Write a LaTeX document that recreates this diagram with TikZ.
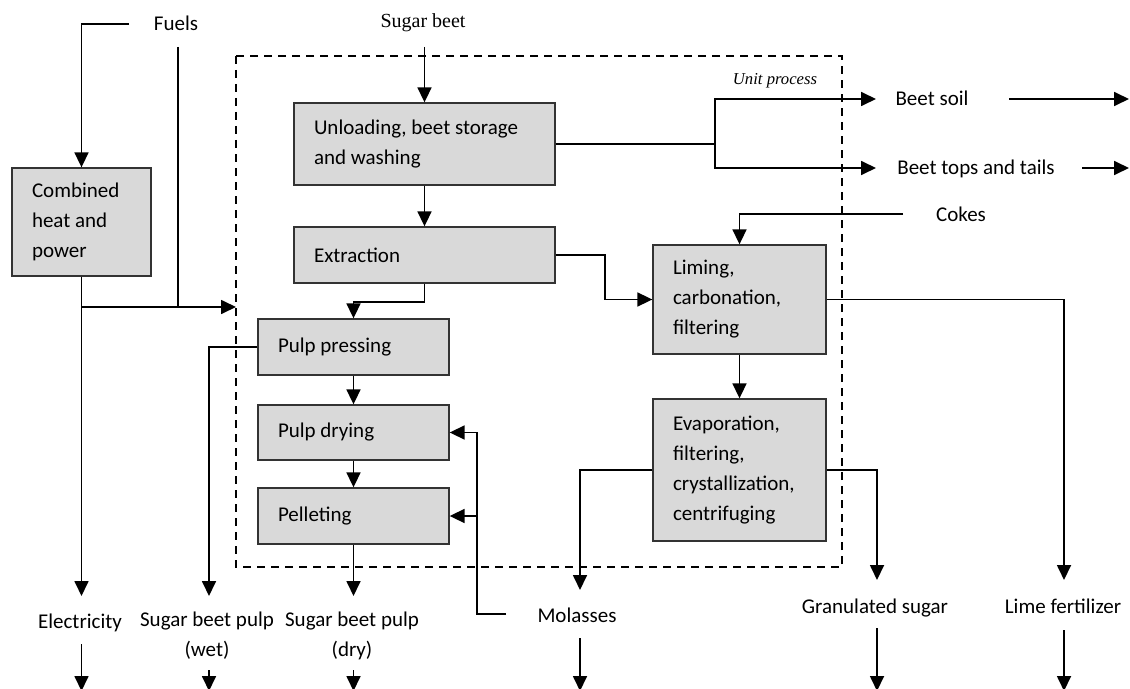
\documentclass[tikz,border=0pt]{standalone}
\usepackage{fontspec}
\setmainfont{Carlito}
\newfontfamily\seriffont{Liberation Serif}
\usetikzlibrary{arrows.meta}
\definecolor{boxgray}{RGB}{217,217,217}
\newcommand{\normspace}{\spaceskip=0pt\relax\xspaceskip=0pt\relax}
\begin{document}
\begin{tikzpicture}[x=0.75pt,y=-0.75pt,
  font=\fontsize{15.75}{22.5}\selectfont,
  line width=1.3pt,
  pbox/.style={draw=black!80, line width=1pt, fill=boxgray, inner xsep=15pt, inner ysep=0pt, align=left, text width=#1, execute at begin node=\normspace},
  lab/.style={inner sep=0pt},
  arr/.style={-{Triangle[length=11.25pt,width=10.5pt]}},
  ubox/.style={dash pattern=on 6pt off 4.5pt, line width=1.2pt}
]
\clip (0,0) rectangle (1130,688);
\draw[ubox] (236,56) rectangle (842,567);

% process boxes
\node[pbox=74.25pt, minimum height=81pt] (chp) at (81.5,222) {Combined\\heat and\\power};
\node[pbox=165.75pt, minimum height=61.5pt] (unl) at (424.5,144) {Unloading, beet storage\\and washing};
\node[pbox=165.75pt, minimum height=42pt] (ext) at (424.5,255) {Extraction};
\node[pbox=113.25pt, minimum height=42pt] (pp) at (353.5,347) {Pulp pressing};
\node[pbox=113.25pt, minimum height=41.25pt] (pd) at (353.5,432.5) {Pulp drying};
\node[pbox=113.25pt, minimum height=42pt] (pel) at (353.5,516) {Pelleting};
\node[pbox=99.75pt, minimum height=81.75pt] (lim) at (739.5,299.5) {Liming,\\carbonation,\\filtering};
\node[pbox=99.75pt, minimum height=106.5pt] (evap) at (739.5,470) {Evaporation,\\filtering,\\crystallization,\\centrifuging};

% labels
\node[lab, anchor=base] (fuels) at (176,31) {Fuels};
\node[lab, anchor=base, font=\seriffont\fontsize{15}{18}\selectfont] (sb) at (423,28) {Sugar beet};
\node[lab, anchor=base, font=\seriffont\itshape\fontsize{12.5}{15}\selectfont] (up) at (775,85) {Unit process};
\node[lab, anchor=base] (soil) at (932,106) {Beet soil};
\node[lab, anchor=base] (tops) at (976,175) {Beet tops and tails};
\node[lab, anchor=base] (cokes) at (961,221) {Cokes};
\node[lab, anchor=base] (elec) at (80,628) {Electricity};
\node[lab, align=center] (wet) at (207,636) {Sugar beet pulp\\(wet)};
\node[lab, align=center] (dry) at (352,636) {Sugar beet pulp\\(dry)};
\node[lab, anchor=base] (mol) at (577,622) {Molasses};
\node[lab, anchor=base] (gran) at (875,613) {Granulated sugar};
\node[lab, anchor=base] (lime) at (1063,613) {Lime fertilizer};

% free ends
\coordinate (f1) at (129,24);
\coordinate (f2) at (178,47);
\coordinate (j1) at (81.5,307);
\coordinate (ubin) at (236,307);
\coordinate (sbs) at (424.5,47);
\coordinate (elecin) at (81.5,596);
\coordinate (wetin) at (209,596);
\coordinate (dryin) at (353.5,596);
\coordinate (split) at (715,144);
\coordinate (soilin) at (876,99);
\coordinate (topsin) at (876,168);
\coordinate (soilout) at (1009,99);
\coordinate (soilend) at (1129,99);
\coordinate (topsout) at (1082,168);
\coordinate (topsend) at (1129,168);
\coordinate (ck) at (903,214);
\coordinate (limein) at (1064,580);
\coordinate (molin) at (580,590);
\coordinate (sugin) at (877,580);
\coordinate (mf) at (506,614);
\coordinate (mj) at (477,516);
\coordinate (eo1) at (81.5,644);  \coordinate (eo2) at (81.5,691);
\coordinate (wo1) at (209,670);   \coordinate (wo2) at (209,691);
\coordinate (do1) at (353.5,670); \coordinate (do2) at (353.5,691);
\coordinate (mo1) at (580,638);   \coordinate (mo2) at (580,691);
\coordinate (go1) at (877,628);   \coordinate (go2) at (877,691);
\coordinate (lo1) at (1064,630);  \coordinate (lo2) at (1064,691);

% connectors
\draw[arr] (f1) -| (chp.north);
\draw (f2) -- (f2 |- ubin);
\draw[arr] (j1) -- (ubin);
\draw[arr] (chp.south) -- (elecin);
\draw[arr] (sbs) -- (unl.north);
\draw[arr] (unl) -- (ext);
\draw[arr] (ext.south) -- ++(0,18) -| (pp.north);
\draw[arr] (pp) -- (pd);
\draw[arr] (pd) -- (pel);
\draw[arr] (pel) -- (dryin);
\draw[arr] (pp.west) -| (wetin);
\draw (unl.east) -- (split);
\draw[arr] (split) |- (soilin);
\draw[arr] (split) |- (topsin);
\draw[arr] (soilout) -- (soilend);
\draw[arr] (topsout) -- (topsend);
\draw[arr] (ck) -| (lim.north);
\draw[arr] (ext.east) -- ++(49,0) |- (lim.west);
\draw[arr] (lim.east) -| (limein);
\draw[arr] (lim) -- (evap);
\draw[arr] (evap.west) -| (molin);
\draw[arr] (evap.east) -| (sugin);
\draw[arr] (mf) -| (mj) |- (pd.east);
\draw[arr] (mj) -- (pel.east);
\draw[arr] (eo1) -- (eo2);
\draw[arr] (wo1) -- (wo2);
\draw[arr] (do1) -- (do2);
\draw[arr] (mo1) -- (mo2);
\draw[arr] (go1) -- (go2);
\draw[arr] (lo1) -- (lo2);
\end{tikzpicture}
\end{document}
